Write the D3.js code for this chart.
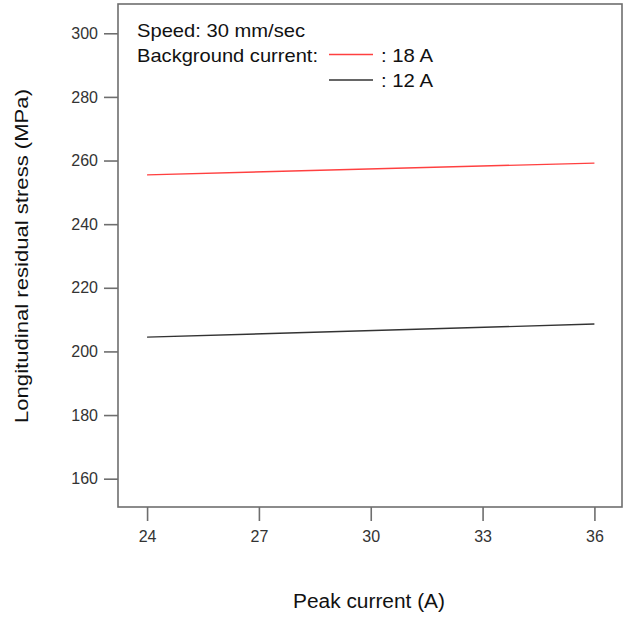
<!DOCTYPE html>
<html>
<head>
<meta charset="utf-8">
<script src="https://cdn.jsdelivr.net/npm/d3@7/dist/d3.min.js"></script>
<style>
  html, body { margin: 0; padding: 0; background: #fff; }
  svg { display: block; font-family: "Liberation Sans", Arial, sans-serif; }
</style>
</head>
<body>
<svg id="chart" width="625" height="619"></svg>
<script>
// Peak current (A) at which stress was evaluated
const peakCurrent = [24, 36];
// Longitudinal residual stress (MPa) for each background current
const stress18A = [255.5, 259.2];
const stress12A = [204.5, 208.6];
const seriesNames = [": 18 A", ": 12 A"];
const xTicks = [24, 27, 30, 33, 36];
const yTicks = [160, 180, 200, 220, 240, 260, 280, 300];

const svg = d3.select("#chart");
const box = { left: 118, right: 622, top: 4, bottom: 507 };

const x = d3.scaleLinear().domain([23.22, 36.74]).range([box.left, box.right]);
const y = d3.scaleLinear().domain([151.1, 309.2]).range([box.bottom, box.top]);

const series = [
  { name: seriesNames[0], values: stress18A, color: "#ff4040" },
  { name: seriesNames[1], values: stress12A, color: "#333333" }
];

// frame
svg.append("rect")
  .attr("x", box.left).attr("y", box.top)
  .attr("width", box.right - box.left).attr("height", box.bottom - box.top)
  .attr("fill", "none").attr("stroke", "#6e6e6e").attr("stroke-width", 1.6);

// axes
const xAxis = svg.append("g")
  .attr("transform", `translate(0,${box.bottom})`)
  .call(d3.axisBottom(x).tickValues(xTicks).tickSize(14).tickPadding(10));
const yAxis = svg.append("g")
  .attr("transform", `translate(${box.left},0)`)
  .call(d3.axisLeft(y).tickValues(yTicks).tickSize(14).tickPadding(6));
[xAxis, yAxis].forEach(g => {
  g.select(".domain").remove();
  g.selectAll(".tick line").attr("stroke", "#6e6e6e").attr("stroke-width", 1.6);
  g.selectAll(".tick text").attr("fill", "#333").style("font-size", "16px")
    .style("font-family", "Liberation Sans, Arial, sans-serif");
});

// series lines
const line = d3.line().x((d, i) => x(peakCurrent[i])).y(d => y(d));
series.forEach(s => {
  svg.append("path").datum(s.values)
    .attr("d", line)
    .attr("fill", "none")
    .attr("stroke", s.color)
    .attr("stroke-width", 1.4);
});

// annotation + legend
const txt = (tx, ty, str, size, len) => {
  const t = svg.append("text")
    .attr("x", tx).attr("y", ty).attr("fill", "#111")
    .style("font-size", size + "px").text(str);
  if (len) t.attr("textLength", len).attr("lengthAdjust", "spacingAndGlyphs");
  return t;
};
txt(137, 36.5, "Speed: 30 mm/sec", 19, 168);
txt(137, 61.5, "Background current:", 19, 181);
series.forEach((s, i) => {
  const ly = 54.5 + i * 25.5;
  svg.append("line")
    .attr("x1", 329).attr("x2", 373)
    .attr("y1", ly).attr("y2", ly)
    .attr("stroke", s.color).attr("stroke-width", 1.6);
  txt(381, ly + 7, s.name, 19, 52);
});

// axis titles
svg.append("text")
  .attr("x", 369).attr("y", 608)
  .attr("text-anchor", "middle").attr("fill", "#111")
  .attr("textLength", 152).attr("lengthAdjust", "spacingAndGlyphs")
  .style("font-size", "19.5px").text("Peak current (A)");
svg.append("text")
  .attr("transform", `translate(28,256) rotate(-90)`)
  .attr("text-anchor", "middle").attr("fill", "#111")
  .attr("textLength", 334).attr("lengthAdjust", "spacingAndGlyphs")
  .style("font-size", "19px").text("Longitudinal residual stress (MPa)");
</script>
</body>
</html>
